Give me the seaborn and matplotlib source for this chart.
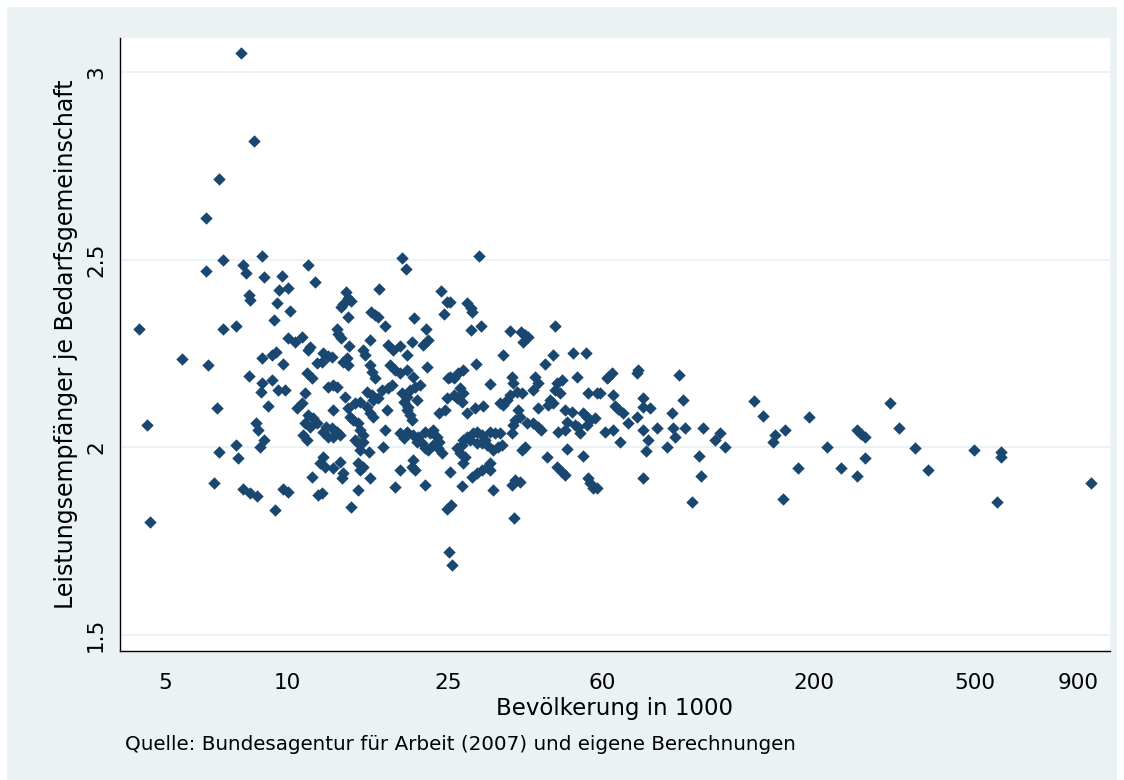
import matplotlib
matplotlib.use('Agg')
import matplotlib.pyplot as plt
from matplotlib.patches import Rectangle
from matplotlib.ticker import FixedLocator, NullLocator
import seaborn as sns
import pandas as pd

# Bevölkerung in 1000 (log axis) and Leistungsempfänger je Bedarfsgemeinschaft
population = [
    4.3, 4.5, 4.6, 5.5, 6.3, 6.3, 6.4, 6.6, 6.7, 6.8, 6.8, 6.95, 6.95, 7.5, 7.5, 7.55,
    7.7, 7.8, 7.9, 7.8, 8.05, 8.05, 8.1, 8.1, 8.3, 8.4, 8.5, 8.45, 8.7, 8.7, 8.65, 8.7,
    8.8, 8.6, 8.8, 9.0, 9.2, 9.3, 9.4, 9.2, 9.35, 9.45, 9.55, 9.7, 9.8, 9.5, 9.9, 9.8,
    10.05, 10.05, 10.05, 10.2, 10.45, 10.6,
    11.3, 11.7, 19.2, 19.7, 16.9, 14.0, 14.15, 14.4, 13.75, 13.6, 14.15, 16.1, 16.5, 16.8,
    17.45, 20.6, 24.0, 24.8, 24.4, 22.1, 13.3, 13.4, 13.6, 10.9, 16.0, 14.2, 11.4, 11.25,
    15.4, 15.6, 17.75, 18.3, 19.0, 20.35, 21.65, 22.3, 12.3, 12.6, 12.9, 14.1, 19.8,
    11.2, 11.5, 11.85, 12.2, 13.75, 14.15, 16.0, 16.2, 18.0, 18.5, 19.0, 19.8, 20.5, 22.2,
    25.0, 16.5, 12.6, 13.0, 13.3, 17.2, 17.75, 18.2, 20.1, 20.7, 21.3, 11.1, 10.9, 13.9,
    15.8, 16.2, 16.3, 16.8, 19.25, 19.8, 19.4, 19.9, 21.0, 24.8, 13.0, 14.15, 14.7, 15.15,
    15.8, 16.0, 16.3, 17.7, 19.8, 20.1, 20.35, 23.8, 24.5, 11.3, 11.6, 11.85, 11.1, 11.4,
    14.3, 14.55, 15.0, 12.5, 12.9, 13.3, 13.5, 13.0, 12.3, 12.6, 15.15, 15.4, 14.7, 15.0,
    15.4, 17.45, 19.0, 19.4, 19.8, 20.5, 21.1, 21.9, 22.6, 22.9, 23.5, 23.8, 20.9, 21.5,
    21.9, 22.3, 22.9, 23.6, 24.1, 10.95, 11.2, 17.3, 15.15, 15.9, 15.0, 15.4, 15.15, 12.3,
    12.05, 12.4, 13.0, 13.5, 13.75, 13.7, 11.5, 16.0, 19.0, 20.5, 20.35, 20.7, 21.9, 18.5,
    11.9, 12.2, 15.0, 14.4, 24.8, 25.4, 25.1, 25.6,
    29.8, 25.2, 27.8, 28.4, 28.7, 28.4, 30.1, 35.5, 37.8, 38.8, 39.4, 38.3, 46.0, 34.2,
    45.4, 50.9, 54.8, 29.3, 43.4, 26.4, 27.2, 25.2, 25.9, 31.7, 35.9, 36.1, 37.0, 38.1,
    35.5, 41.0, 41.7, 40.5, 46.5, 47.8, 46.0, 47.3, 52.1, 61.8, 55.4, 58.3, 26.7, 27.2,
    26.3, 27.0, 25.9, 34.9, 44.5, 45.4, 44.2, 33.6, 34.2, 29.1, 30.5, 27.8, 41.7, 48.6,
    50.6, 53.8, 55.1, 56.0, 57.7, 55.1, 52.4, 53.0, 37.2, 37.6, 36.6, 36.1, 39.2, 40.5,
    41.7, 42.4, 49.2, 51.5, 61.1, 46.7, 48.6, 35.9, 27.8, 28.3, 28.75, 29.5, 30.3, 30.8,
    31.7, 32.6, 33.6, 29.5, 30.3, 31.2, 27.2, 27.0, 26.3, 26.7, 27.5, 27.2, 33.2, 32.2,
    33.9, 38.8, 38.1, 49.2, 53.8, 43.9, 31.7, 31.7, 31.2, 30.3, 29.5, 28.6, 46.5, 47.8,
    48.6, 25.25, 55.4, 56.0, 57.0, 58.3, 36.6, 37.6, 35.9, 27.0, 32.2, 36.3,
    63.6, 62.2, 73.7, 73.3, 92.9, 59.3, 64.0, 64.6, 65.7, 67.6, 75.9, 75.5, 78.8, 95.0,
    73.3, 69.6, 89.1, 64.0, 75.5, 82.1, 89.6, 96.2, 90.9, 106.5, 66.4, 78.0, 77.2, 86.9,
    117.6, 114.0, 120.6, 104.2, 75.5, 105.5, 100.0, 142.5, 150.0, 160.6, 158.8, 167.7,
    169.4, 194, 182.5, 215, 234, 255, 262, 267, 268, 255, 308, 325, 355, 382, 498, 581,
    581, 568, 966,
]
ratio = [
    2.315, 2.06, 1.80, 2.235, 2.61, 2.47, 2.22, 1.905, 2.105, 2.715, 1.987, 2.50, 2.315,
    2.323, 2.005, 1.97, 3.05, 2.485, 2.465, 1.888, 2.19, 2.405, 2.392, 1.877, 2.815, 2.064,
    2.045, 1.869, 2.51, 2.237, 2.147, 2.171, 2.453, 2.0, 2.019, 2.11, 2.179, 2.339, 2.253,
    2.245, 1.832, 2.384, 2.419, 2.456, 2.221, 2.152, 2.152, 1.888, 2.424, 1.88, 2.291,
    2.363, 2.28, 2.104,
    2.485, 2.44, 2.505, 2.475, 2.421, 2.413, 2.397, 2.389, 2.381, 2.373, 2.347, 2.36,
    2.352, 2.347, 2.323, 2.344, 2.416, 2.387, 2.355, 2.315, 2.315, 2.301, 2.291, 2.293,
    2.285, 2.269, 2.267, 2.259, 2.259, 2.245, 2.272, 2.259, 2.269, 2.28, 2.272, 2.285,
    2.251, 2.243, 2.24, 2.237, 2.245,
    2.197, 2.184, 2.224, 2.227, 2.227, 2.219, 2.219, 2.2, 2.219, 2.205, 2.197, 2.205,
    2.187, 2.213, 2.184, 2.184, 2.16, 2.165, 2.16, 2.152, 2.157, 2.165, 2.152, 2.16, 2.165,
    2.144, 2.117, 2.133, 2.147, 2.139, 2.125, 2.131, 2.144, 2.133, 2.12, 2.107, 2.125,
    2.131, 2.099, 2.104, 2.117, 2.12, 2.107, 2.091, 2.08, 2.099, 2.099, 2.085, 2.072,
    2.091, 2.099, 2.085, 2.077, 2.064, 2.064, 2.053, 2.08, 2.072, 2.064, 2.053, 2.051,
    2.04, 2.032, 2.027, 2.04, 2.027, 2.045, 2.032, 2.019, 2.011, 2.013, 2.045, 2.037,
    2.024, 2.04, 2.032, 2.027, 2.04, 2.037, 2.045, 2.027, 2.013, 2.013, 2.011, 1.997,
    1.992, 2.005, 1.997, 1.984, 2.032, 2.019, 2.0, 1.992, 1.987, 1.957, 1.947, 1.939,
    1.973, 1.957, 1.947, 1.944, 1.96, 1.931, 1.917, 1.92, 1.917, 1.939, 1.965, 1.947,
    1.939, 1.899, 1.893, 1.872, 1.877, 1.885, 1.84, 1.835, 1.845, 1.72, 1.685,
    2.51, 2.387, 2.384, 2.371, 2.36, 2.312, 2.323, 2.309, 2.307, 2.299, 2.293, 2.28,
    2.323, 2.245, 2.245, 2.251, 2.251, 2.221, 2.221, 2.197, 2.205, 2.187, 2.184, 2.168,
    2.187, 2.171, 2.147, 2.144, 2.139, 2.187, 2.171, 2.152, 2.171, 2.179, 2.152, 2.144,
    2.187, 2.184, 2.144, 2.144, 2.157, 2.144, 2.131, 2.12, 2.139, 2.125, 2.125, 2.117,
    2.112, 2.117, 2.112, 2.104, 2.109, 2.091, 2.104, 2.099, 2.093, 2.091, 2.08, 2.072,
    2.077, 2.059, 2.053, 2.037, 2.099, 2.08, 2.072, 2.059, 2.064, 2.064, 2.053, 2.045,
    2.067, 2.059, 2.04, 2.04, 2.045, 2.037, 2.027, 2.019, 2.037, 2.04, 2.032, 2.019,
    2.04, 2.037, 2.037, 2.011, 2.011, 2.005, 2.019, 2.005, 1.997, 1.984, 1.973, 1.957,
    2.0, 1.992, 2.005, 2.0, 1.992, 1.995, 1.976, 1.973, 1.957, 1.939, 1.947, 1.939,
    1.931, 1.92, 1.947, 1.933, 1.925, 1.933, 1.917, 1.904, 1.891, 1.891, 1.912, 1.907,
    1.899, 1.896, 1.885, 1.811,
    2.197, 2.187, 2.205, 2.197, 2.192, 2.144, 2.139, 2.109, 2.101, 2.091, 2.131, 2.107,
    2.104, 2.125, 2.08, 2.064, 2.091, 2.045, 2.045, 2.051, 2.051, 2.051, 2.027, 2.051,
    2.013, 2.019, 1.989, 2.0, 2.037, 2.019, 2.0, 1.976, 1.917, 1.923, 1.853, 2.123, 2.083,
    2.032, 2.013, 1.861, 2.045, 2.08, 1.944, 2.0, 1.944, 2.045, 2.035, 2.027, 1.971,
    1.923, 2.117, 2.051, 1.997, 1.939, 1.992, 1.987, 1.973, 1.853, 1.904,
]

x_ticks = [5, 10, 25, 60, 200, 500, 900]
y_ticks = [1.5, 2, 2.5, 3]
y_tick_labels = ['1.5', '2', '2.5', '3']

df = pd.DataFrame({'pop': population, 'ratio': ratio})

sns.set_style('white')
plt.rcParams['font.family'] = ['DejaVu Sans']
plt.rcParams['text.color'] = 'black'
plt.rcParams['axes.labelcolor'] = 'black'

bg = '#eaf2f3'
navy = '#1a476f'

fig = plt.figure(figsize=(11.24, 7.8), dpi=100)
fig.patch.set_facecolor('white')
fig.add_artist(Rectangle((7 / 1124, 0), 1110 / 1124, 773 / 780,
                         transform=fig.transFigure, facecolor=bg,
                         edgecolor='none', zorder=-5))
ax = fig.add_axes([120 / 1124, 1 - 651 / 780, 990 / 1124, 613 / 780])
ax.set_facecolor('white')

sns.scatterplot(data=df, x='pop', y='ratio', marker='D', s=40, color=navy,
                linewidth=0, ax=ax, zorder=3)

ax.set_xscale('log')
ax.set_xlim(3.87, 1077)
ax.set_ylim(1.456, 3.091)
ax.xaxis.set_major_locator(FixedLocator(x_ticks))
ax.xaxis.set_minor_locator(NullLocator())
ax.set_xticklabels([str(t) for t in x_ticks], fontsize=15.5)
ax.set_yticks(y_ticks)
ax.set_yticklabels(y_tick_labels, fontsize=15.5, rotation=90, va='center')

ax.grid(axis='y', color=bg, linewidth=1.4)
ax.grid(axis='x', visible=False)
ax.set_axisbelow(True)
for side in ['top', 'right']:
    ax.spines[side].set_visible(False)
for side in ['left', 'bottom']:
    ax.spines[side].set_color('black')
    ax.spines[side].set_linewidth(1.0)
ax.tick_params(axis='x', direction='out', length=8, width=1, color='black',
               labelcolor='black', pad=8)
ax.tick_params(axis='y', direction='out', length=7, width=1, color='black',
               labelcolor='black', pad=3)

ax.set_xlabel('Bevölkerung in 1000', fontsize=16.5, labelpad=3)
ax.set_ylabel('Leistungsempfänger je Bedarfsgemeinschaft', fontsize=17, labelpad=6)

fig.text(125 / 1124, 1 - 745 / 780,
         'Quelle: Bundesagentur für Arbeit (2007) und eigene Berechnungen',
         fontsize=14.3, va='center', ha='left')

fig.savefig('out.png', dpi=100, facecolor=fig.get_facecolor())
